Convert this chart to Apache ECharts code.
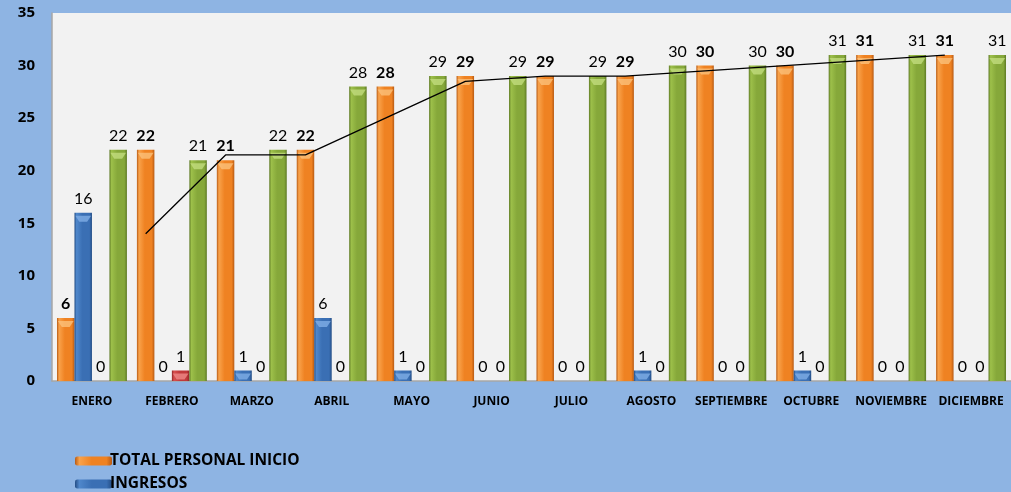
<!DOCTYPE html>
<html>
<head>
<meta charset="utf-8">
<script src="https://cdn.jsdelivr.net/npm/echarts@6/dist/echarts.min.js"></script>
<style>
html,body{margin:0;padding:0;background:#8EB4E3;}
#chart{width:1011px;height:492px;}
</style>
</head>
<body>
<div id="chart"></div>
<script>
const months = ['ENERO','FEBRERO','MARZO','ABRIL','MAYO','JUNIO','JULIO','AGOSTO','SEPTIEMBRE','OCTUBRE','NOVIEMBRE','DICIEMBRE'];
const totalInicio = [6,22,21,22,28,29,29,29,30,30,31,31];
const ingresos = [16,0,1,6,1,0,0,1,0,1,0,0];
const egresos = [0,1,0,0,0,0,0,0,0,0,0,0];
const totalFin = [22,21,22,28,29,29,29,30,30,31,31,31];
const mediaMovil = [null,14,21.5,21.5,25,28.5,29,29,29.5,30,30.5,31];
const yTicks = [0,5,10,15,20,25,30,35];

const FONT = 'Lato, "Open Sans", sans-serif';
const BOLDFONT = '"Open Sans", sans-serif';
function grad(light, mid, dark) {
  return new echarts.graphic.LinearGradient(0,0,1,0,[
    {offset:0, color:dark},{offset:0.12, color:light},{offset:0.45, color:mid},{offset:0.85, color:mid},{offset:1, color:dark}
  ]);
}
const seriesDefs = [
  {name:'TOTAL PERSONAL INICIO', data: totalInicio, c: grad('#F9A24A','#EF8222','#B85B14'), cap:'#FBC07A', bold:true},
  {name:'INGRESOS', data: ingresos, c: grad('#4F87CB','#3A6FB4','#244E86'), cap:'#7FAEE6', bold:false},
  {name:'EGRESOS', data: egresos, c: grad('#D9504F','#C0393B','#8C2427'), cap:'#EE8A88', bold:false},
  {name:'TOTAL PERSONAL FIN', data: totalFin, c: grad('#9DC04A','#86A83A','#5E7A25'), cap:'#C2DC7E', bold:false}
];
const capPath = 'path://M0,0 L20,0 L15,6 L5,6 Z';

const series = [];
seriesDefs.forEach(d => {
  series.push({
    type:'bar', name:d.name, data:d.data,
    barGap:'0%', barCategoryGap:'12.5%',
    itemStyle:{color:d.c},
    label:{show:true, position:'top', distance:6, color:'#000', fontFamily:FONT, fontSize:16, fontWeight: d.bold ? 'bold':'normal'}
  });
});
seriesDefs.forEach(d => {
  series.push({
    type:'pictorialBar', name:d.name + ' cap',
    data: d.data.map(v => v > 0 ? v : '-'),
    barGap:'0%', barCategoryGap:'12.5%',
    symbol: capPath, symbolPosition:'end', symbolSize:['90%',6], symbolOffset:[0,'50%'],
    itemStyle:{color:d.cap, opacity:0.8}, z:3, silent:true
  });
});
const ORANGE_OFFSET = -1.5 * 0.875 / 4;
series.push({
  type:'line', name:'2 per. media móvil', xAxisIndex:1,
  data: mediaMovil.map((v,i) => [i + ORANGE_OFFSET, v]).filter(p => p[1] !== null),
  symbol:'none', lineStyle:{color:'#000', width:1.3}, z:5
});

const chart = echarts.init(document.getElementById('chart'), null, {renderer:'canvas'});
chart.setOption({
  animation:false,
  backgroundColor:'#8EB4E3',
  grid:{left:52, top:13, width:961, bottom:111, backgroundColor:'#F2F2F2', show:true, borderWidth:0},
  legend:{
    data: seriesDefs.map(d => d.name),
    orient:'vertical', left:70, top:448, height:140, itemGap:7, itemWidth:37, itemHeight:9,
    textStyle:{fontFamily:BOLDFONT, fontWeight:'bold', fontSize:15.5, color:'#000', padding:[0,0,0,-7]},
    selectedMode:false
  },
  xAxis:[{
    type:'category', data:months,
    axisLine:{lineStyle:{color:'#A6A6A6', width:1.5}}, axisTick:{show:false},
    axisLabel:{fontFamily:BOLDFONT, fontWeight:'bold', fontSize:12, color:'#000', margin:15, interval:0}
  },{
    type:'value', min:-0.5, max:11.5, show:false
  }],
  yAxis:{
    type:'value', min:0, max:35, interval:5,
    axisLine:{show:true, onZero:false, lineStyle:{color:'#A6A6A6', width:1.5}}, axisTick:{show:false},
    splitLine:{show:false},
    axisLabel:{fontFamily:BOLDFONT, fontWeight:'bold', fontSize:15, color:'#000', margin:17,
      formatter: v => yTicks.includes(v) ? String(v) : ''}
  },
  series: series
});
</script>
</body>
</html>
